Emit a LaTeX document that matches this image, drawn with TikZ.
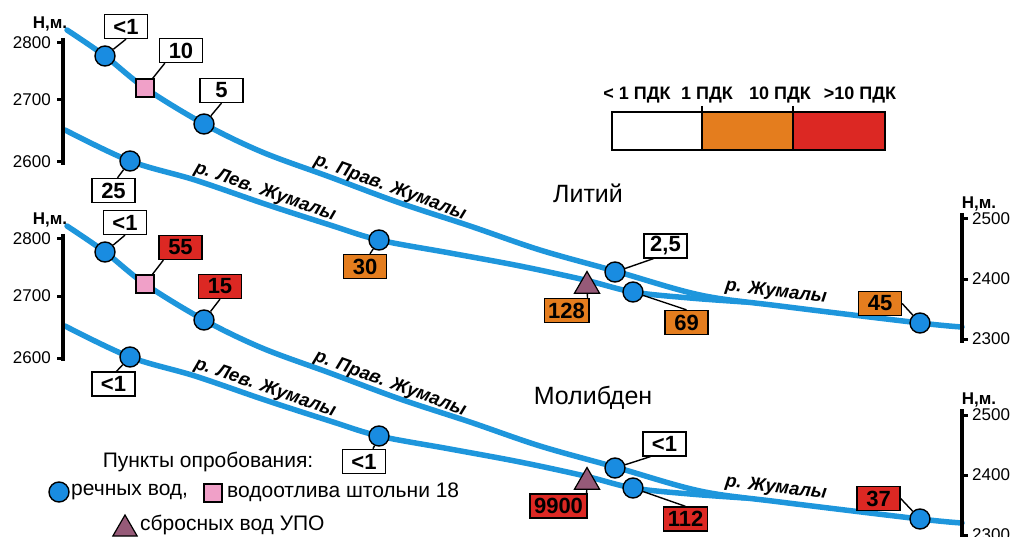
\documentclass[tikz,border=0pt]{standalone}
\usepackage{fontspec}
\setmainfont{Liberation Sans}
\usetikzlibrary{shapes.geometric}
\definecolor{riverblue}{RGB}{30,150,220}
\definecolor{ptblue}{RGB}{25,140,225}
\definecolor{pinkf}{RGB}{240,160,200}
\definecolor{mauve}{RGB}{150,90,120}
\definecolor{orangef}{RGB}{228,125,30}
\definecolor{redf}{RGB}{220,40,35}
\newcommand{\fsz}[1]{\fontsize{#1}{#1}\selectfont}
\begin{document}
\begin{tikzpicture}[x=1pt,y=-1pt,
  river/.style={line width=5.5pt,draw=riverblue,line cap=round,line join=round},
  rpt/.style={circle,draw=black,line width=1.4pt,fill=ptblue,minimum size=20pt,inner sep=0pt},
  spt/.style={rectangle,draw=black,line width=1.2pt,fill=pinkf,minimum size=18pt,inner sep=0pt},
  tpt/.style={regular polygon,regular polygon sides=3,draw=black,line width=1.2pt,fill=mauve,minimum size=29pt,inner sep=0pt},
  val/.style={draw=black,line width=1.3pt,minimum width=43pt,minimum height=24pt,inner xsep=4pt,inner ysep=0pt,font=\bfseries\fsz{22}},
  wv/.style={val,fill=white}, ov/.style={val,fill=orangef}, rv/.style={val,fill=redf},
  conn/.style={draw=black,line width=1.4pt},
  axisline/.style={line width=3.5pt,draw=black},
  axtick/.style={line width=3pt,draw=black},
  axlab/.style={font=\fsz{17},inner sep=0pt},
  hm/.style={font=\bfseries\fsz{17},inner sep=0pt},
  rname/.style={font=\bfseries\itshape\fsz{18.5},inner sep=0pt},
  elem/.style={font=\fsz{25},inner sep=0pt},
  leg/.style={font=\fsz{21},inner sep=0pt},
  pdk/.style={font=\bfseries\fsz{18},inner sep=0pt}
]
\useasboundingbox (0,0) rectangle (1014,537);

\foreach \p/\dy in {t/0,b/196}{
\begin{scope}[shift={(0,\dy)}]
  % rivers
  \draw[river] plot[smooth,tension=0.55] coordinates {(67,30) (105,56) (145,88) (204,124) (262,152) (330,177) (400,203) (470,226) (540,250) (615,271) (700,295) (780,306) (920,323) (962,327)};
  \draw[river] plot[smooth,tension=0.55] coordinates {(65,130) (130,161) (195,180) (265,204) (330,225) (379,240) (450,253) (520,266) (585,280) (633,292) (690,298) (745,302)};
  % left axis
  \draw[axisline] (63,38) -- (63,165);
  \draw[axtick] (57,43) -- (63,43);
  \draw[axtick] (57,100) -- (63,100);
  \draw[axtick] (57,162) -- (63,162);
  \node[axlab,anchor=east] (la\p) at (51,43) {2800};
  \node[axlab,anchor=east] (lb\p) at (51,100) {2700};
  \node[axlab,anchor=east] (lc\p) at (51,162) {2600};
  \node[hm] (lh\p) at (50,24) {Н,м.};
  % right axis
  \draw[axisline] (962,213) -- (962,343);
  \draw[axtick] (962,219) -- (968,219);
  \draw[axtick] (962,279) -- (968,279);
  \draw[axtick] (962,339) -- (968,339);
  \node[axlab,anchor=west] (ra\p) at (972,219) {2500};
  \node[axlab,anchor=west] (rb\p) at (972,279) {2400};
  \node[axlab,anchor=west] (rc\p) at (972,339) {2300};
  \node[hm] (rh\p) at (979,204) {Н,м.};
  % river names
  \node[rname,rotate=-20] (np\p) at (390,188) {р. Прав. Жумалы};
  \node[rname,rotate=-19] (nl\p) at (265,192) {р. Лев. Жумалы};
  \node[rname,rotate=-7] (nj\p) at (776,292) {р. Жумалы};
  % sampling points
  \node[rpt] (p1\p) at (105,56) {};
  \node[spt] (s1\p) at (145,88) {};
  \node[rpt] (p2\p) at (204,124) {};
  \node[rpt] (p3\p) at (130,161) {};
  \node[rpt] (p4\p) at (379,240) {};
  \node[tpt] (t1\p) at (587,286) {};
  \node[rpt] (p5\p) at (615,272) {};
  \node[rpt] (p6\p) at (633,292) {};
  \node[rpt] (p7\p) at (920,323) {};
\end{scope}
}

% element names
\node[elem] (li) at (588,193) {Литий};
\node[elem] (mo) at (593,398) {Молибден};

% values: lithium
\node[wv] (v1t) at (126,26.5) {<1};
\node[wv] (v2t) at (181,50.5) {10};
\node[wv] (v3t) at (221.5,90.5) {5};
\node[wv] (v4t) at (113.5,190.5) {25};
\node[ov] (v5t) at (365,266.5) {30};
\node[wv] (v6t) at (665.5,246) {2,5};
\node[ov] (v7t) at (566.5,310.5) {128};
\node[ov] (v8t) at (686.5,322.5) {69};
\node[ov] (v9t) at (880,303.5) {45};
\draw[conn] (p1t) -- (v1t.south);
\draw[conn] (s1t) -- ([xshift=6pt]v2t.south west);
\draw[conn] (p2t) -- (v3t.south);
\draw[conn] (p3t) -- ([xshift=4pt]v4t.north);
\draw[conn] (p4t) -- ([xshift=5pt]v5t.north);
\draw[conn] (p5t) -- ([xshift=10pt]v6t.south west);
\draw[conn] (t1t) -- ([xshift=-2pt]v7t.north east);
\draw[conn] (p6t) -- (v8t.north);
\draw[conn] (p7t) -- (v9t.east);

% values: molybdenum
\node[wv] (v1b) at (125,222.5) {<1};
\node[rv] (v2b) at (180.5,247.5) {55};
\node[rv] (v3b) at (220,286.5) {15};
\node[wv] (v4b) at (113.5,384) {<1};
\node[wv] (v5b) at (364,461.5) {<1};
\node[wv] (v6b) at (664.5,444) {<1};
\node[rv] (v7b) at (558.5,506) {9900};
\node[rv] (v8b) at (685.5,519) {112};
\node[rv] (v9b) at (878.5,498.5) {37};
\draw[conn] (p1b) -- (v1b.south);
\draw[conn] (s1b) -- ([xshift=5pt]v2b.south west);
\draw[conn] (p2b) -- (v3b.south);
\draw[conn] (p3b) -- ([xshift=3pt]v4b.north);
\draw[conn] (p4b) -- ([xshift=9pt]v5b.north);
\draw[conn] (p5b) -- ([xshift=8pt]v6b.south west);
\draw[conn] (t1b) -- ([xshift=-1pt]v7b.north east);
\draw[conn] (p6b) -- (v8b.north);
\draw[conn] (p7b) -- (v9b.east);

% scale legend
\filldraw[fill=white,draw=black,line width=2.5pt] (612,112) rectangle (702,150);
\filldraw[fill=orangef,draw=black,line width=2.5pt] (702,112) rectangle (793,150);
\filldraw[fill=redf,draw=black,line width=2.5pt] (793,112) rectangle (885,150);
\draw[line width=2.5pt] (702,106) -- (702,112);
\draw[line width=2.5pt] (793,106) -- (793,112);
\node[pdk] (k1) at (637,95) {< 1 ПДК};
\node[pdk] (k2) at (707,95) {1 ПДК};
\node[pdk] (k3) at (780,95) {10 ПДК};
\node[pdk] (k4) at (860,95) {>10 ПДК};

% point legend
\node[leg] (lg0) at (208,462) {Пункты опробования:};
\node[rpt] (lgc) at (59,492) {};
\node[leg,anchor=west] (lg1) at (71,492) {речных вод,};
\node[spt] (lgs) at (213,493) {};
\node[leg,anchor=west] (lg2) at (227,492) {водоотлива штольни 18};
\node[tpt,minimum size=28pt] (lgt) at (125,529) {};
\node[leg,anchor=west] (lg3) at (140,525) {сбросных вод УПО};
\end{tikzpicture}
\end{document}
